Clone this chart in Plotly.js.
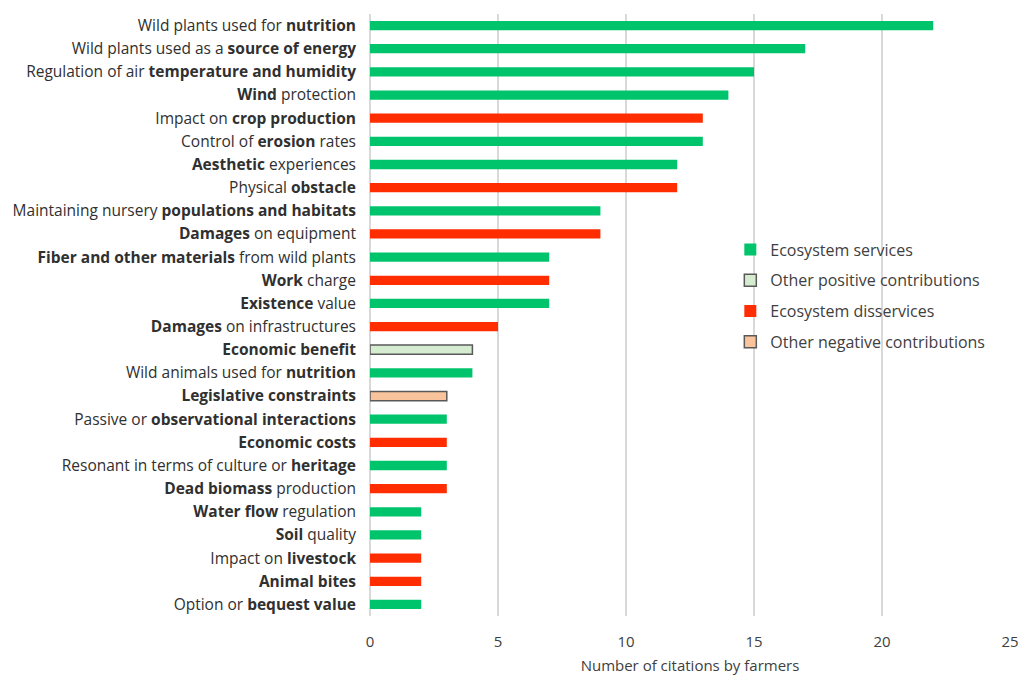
<!DOCTYPE html>
<html>
<head>
<meta charset="utf-8">
<script src="https://cdn.plot.ly/plotly-3.0.1.min.js"></script>
<style>html,body{margin:0;padding:0;background:#fff;}#chart{width:1019px;height:675px;}</style>
</head>
<body>
<div id="chart"></div>
<script>
var categories = [
  "Wild plants used for nutrition",
  "Wild plants used as a source of energy",
  "Regulation of air temperature and humidity",
  "Wind protection",
  "Impact on crop production",
  "Control of erosion rates",
  "Aesthetic experiences",
  "Physical obstacle",
  "Maintaining nursery populations and habitats",
  "Damages on equipment",
  "Fiber and other materials from wild plants",
  "Work charge",
  "Existence value",
  "Damages on infrastructures",
  "Economic benefit",
  "Wild animals used for nutrition",
  "Legislative constraints",
  "Passive or observational interactions",
  "Economic costs",
  "Resonant in terms of culture or heritage",
  "Dead biomass production",
  "Water flow regulation",
  "Soil quality",
  "Impact on livestock",
  "Animal bites",
  "Option or bequest value"
];
var tickLabels = [
  "Wild plants used for <b>nutrition</b>",
  "Wild plants used as a <b>source of energy</b>",
  "Regulation of air <b>temperature and humidity</b>",
  "<b>Wind</b> protection",
  "Impact on <b>crop production</b>",
  "Control of <b>erosion</b> rates",
  "<b>Aesthetic</b> experiences",
  "Physical <b>obstacle</b>",
  "Maintaining nursery <b>populations and habitats</b>",
  "<b>Damages</b> on equipment",
  "<b>Fiber and other materials</b> from wild plants",
  "<b>Work</b> charge",
  "<b>Existence</b> value",
  "<b>Damages</b> on infrastructures",
  "<b>Economic benefit</b>",
  "Wild animals used for <b>nutrition</b>",
  "<b>Legislative constraints</b>",
  "Passive or <b>observational interactions</b>",
  "<b>Economic costs</b>",
  "Resonant in terms of culture or <b>heritage</b>",
  "<b>Dead biomass</b> production",
  "<b>Water flow</b> regulation",
  "<b>Soil</b> quality",
  "Impact on <b>livestock</b>",
  "<b>Animal bites</b>",
  "Option or <b>bequest value</b>"
];
var citations = [22, 17, 15, 14, 13, 13, 12, 12, 9, 9, 7, 7, 7, 5, 4, 4, 3, 3, 3, 3, 3, 2, 2, 2, 2, 2];
var groups = ["ES","ES","ES","ES","ED","ES","ES","ED","ES","ED","ES","ED","ES","ED","OP","ES","ON","ES","ED","ES","ED","ES","ES","ED","ED","ES"];
var groupKeys = ["ES", "OP", "ED", "ON"];
var groupNames = ["Ecosystem services", "Other positive contributions", "Ecosystem disservices", "Other negative contributions"];
var groupColors = ["#00c46c", "#d5ecd0", "#ff2d00", "#f9c39b"];
var groupBorders = ["#00c46c", "#595959", "#ff2d00", "#595959"];
var groupBorderWidths = [0, 1.5, 0, 1.5];

var traces = groupKeys.map(function (k, gi) {
  var ys = [], xs = [];
  for (var i = 0; i < categories.length; i++) {
    if (groups[i] === k) { ys.push(categories[i]); xs.push(citations[i]); }
  }
  return {
    type: "bar", orientation: "h", x: xs, y: ys, name: groupNames[gi],
    legendgroup: k,
    width: 0.4,
    marker: { color: groupColors[gi], line: { color: groupBorders[gi], width: groupBorderWidths[gi] } },
    hoverinfo: "x+y"
  };
});

var layout = {
  width: 1019, height: 675,
  margin: { l: 370, r: 9, t: 14, b: 59 },
  paper_bgcolor: "#ffffff", plot_bgcolor: "#ffffff",
  font: { family: "'Open Sans', sans-serif", size: 15, color: "#404040" },
  barmode: "overlay",
  showlegend: true,
  legend: {
    x: 0.563, y: 0.637, xanchor: "left", yanchor: "top",
    font: { size: 16, color: "#404040" },
    bgcolor: "rgba(255,255,255,0)", tracegroupgap: 7
  },
  xaxis: {
    range: [0, 25], tickvals: [0, 5, 10, 15, 20, 25], ticks: "",
    showgrid: true, gridcolor: "#d9d9d9", gridwidth: 2,
    zeroline: true, zerolinecolor: "#d9d9d9", zerolinewidth: 2,
    showline: false, tickfont: { size: 15, color: "#404040" },
    ticklabelstandoff: 15,
    title: { text: "Number of citations by farmers", font: { size: 15, color: "#404040" }, standoff: 13 },
    fixedrange: true
  },
  yaxis: {
    type: "category", categoryorder: "array", categoryarray: categories,
    tickvals: categories, ticktext: tickLabels,
    autorange: "reversed", range: [25.5, -0.5],
    showgrid: false, zeroline: false, showline: false, ticks: "",
    tickfont: { size: 15.5, color: "#303030" }, ticklabelstandoff: 13,
    fixedrange: true
  }
};

Plotly.newPlot("chart", traces, layout, { displayModeBar: false, staticPlot: true });
</script>
</body>
</html>
